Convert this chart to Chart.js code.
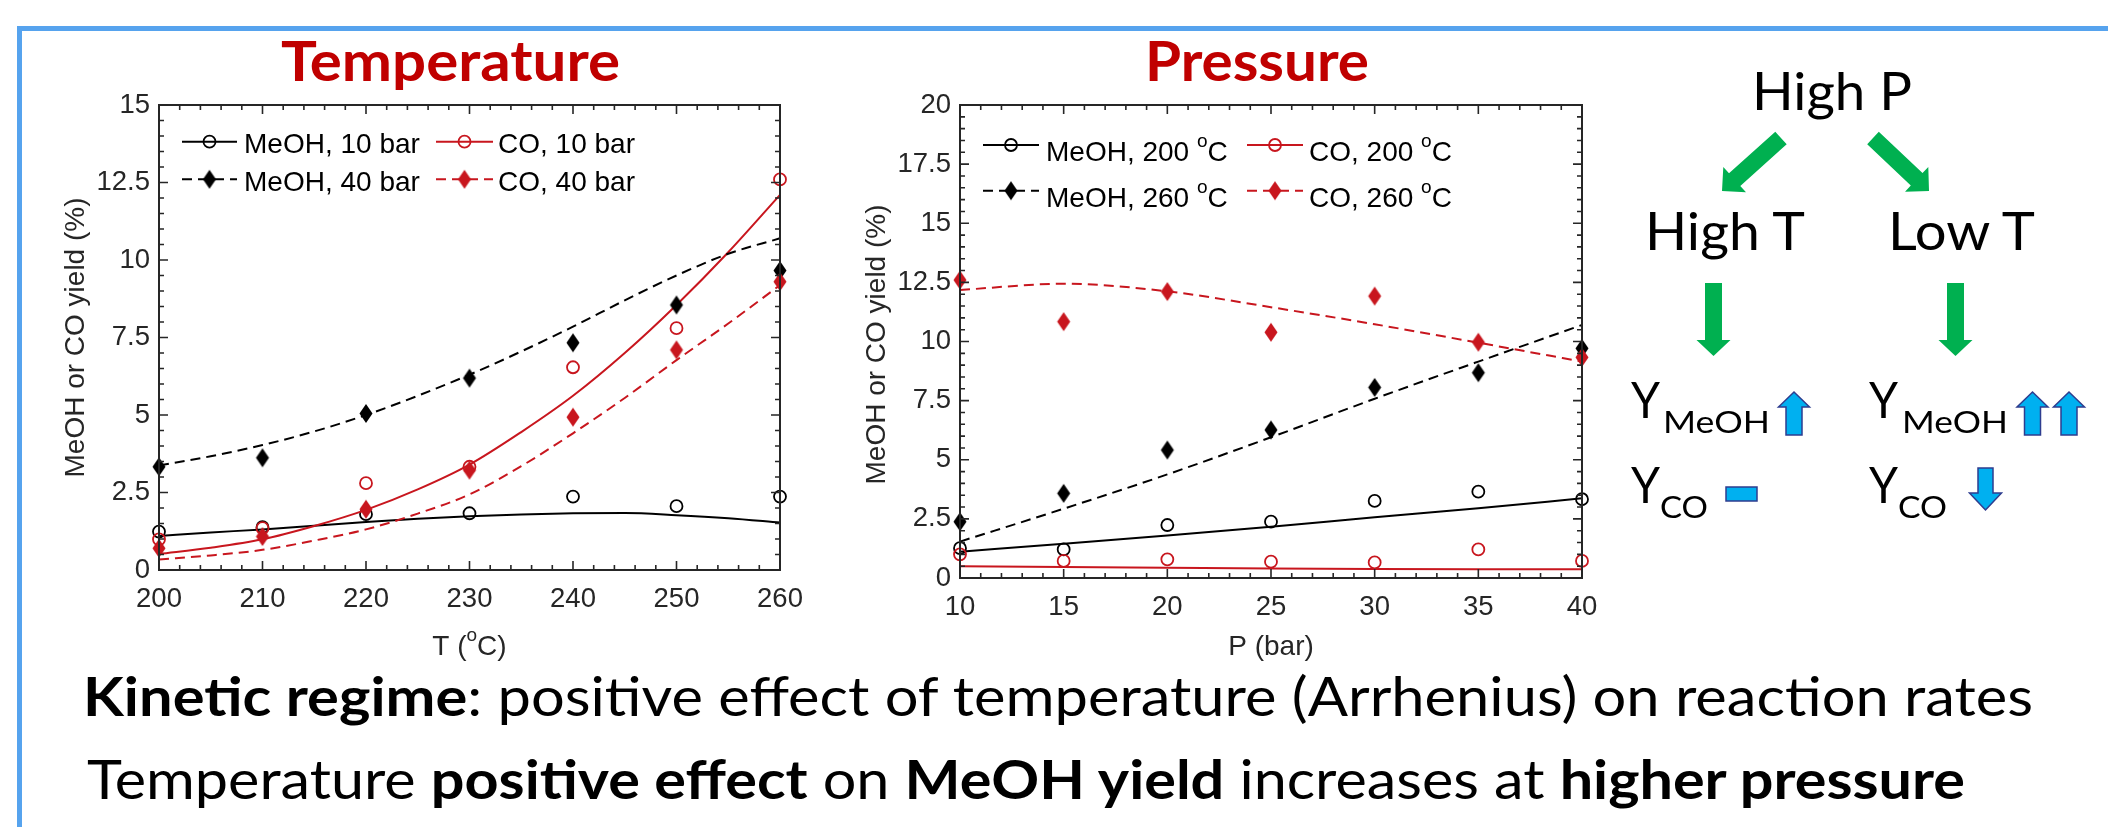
<!DOCTYPE html>
<html>
<head>
<meta charset="utf-8">
<script src="https://cdn.jsdelivr.net/npm/chart.js@4.4.1/dist/chart.umd.min.js"></script>
<style>
  html, body { margin: 0; padding: 0; background: #fff; }
  body { width: 2108px; height: 827px; position: relative; overflow: hidden; }
  .panel { position: absolute; top: 0; }
  #overlay { position: absolute; left: 0; top: 0; pointer-events: none; }
</style>
</head>
<body>
<div class="panel" style="left:0;width:880px;height:700px"><canvas id="tempChart" width="880" height="700"></canvas></div>
<div class="panel" style="left:860px;width:800px;height:700px"><canvas id="presChart" width="800" height="700"></canvas></div>

<svg id="overlay" width="2108" height="827" xmlns="http://www.w3.org/2000/svg" font-family="Lato, 'Open Sans', sans-serif">
  <path d="M19.5 827 V28.5 H2108" stroke="#56A3EE" stroke-width="5" fill="none"/>

  <text x="281" y="81" font-size="56" font-weight="700" fill="#C00000" textLength="339" lengthAdjust="spacingAndGlyphs">Temperature</text>
  <text x="1145" y="81" font-size="56" font-weight="700" fill="#C00000" textLength="224" lengthAdjust="spacingAndGlyphs">Pressure</text>

  <g fill="#000">
    <text x="1752" y="110" font-size="53" textLength="160" lengthAdjust="spacingAndGlyphs">High P</text>
    <text x="1645" y="250" font-size="53" textLength="160" lengthAdjust="spacingAndGlyphs">High T</text>
    <text x="1888" y="250" font-size="53" textLength="147" lengthAdjust="spacingAndGlyphs">Low T</text>

    <text x="1631" y="418" font-size="50" textLength="29" lengthAdjust="spacingAndGlyphs">Y</text>
    <text x="1663" y="433" font-size="30" textLength="107" lengthAdjust="spacingAndGlyphs">MeOH</text>
    <text x="1869" y="418" font-size="50" textLength="29" lengthAdjust="spacingAndGlyphs">Y</text>
    <text x="1902" y="433" font-size="30" textLength="106" lengthAdjust="spacingAndGlyphs">MeOH</text>

    <text x="1631" y="503" font-size="50" textLength="29" lengthAdjust="spacingAndGlyphs">Y</text>
    <text x="1660" y="518" font-size="30" textLength="48" lengthAdjust="spacingAndGlyphs">CO</text>
    <text x="1869" y="503" font-size="50" textLength="29" lengthAdjust="spacingAndGlyphs">Y</text>
    <text x="1898" y="518" font-size="30" textLength="49" lengthAdjust="spacingAndGlyphs">CO</text>

    <text x="83" y="716" font-size="54" textLength="1950" lengthAdjust="spacingAndGlyphs"><tspan font-weight="700">Kinetic regime</tspan>: positive effect of temperature (Arrhenius) on reaction rates</text>
    <text x="87" y="799" font-size="54" textLength="1878" lengthAdjust="spacingAndGlyphs">Temperature <tspan font-weight="700">positive effect</tspan> on <tspan font-weight="700">MeOH yield</tspan> increases at <tspan font-weight="700">higher pressure</tspan></text>
  </g>
  <g id="shapes"></g>
</svg>

<script>
// ---- data: Temperature panel (10 and 40 bar) ----
const tempC = [200, 210, 220, 230, 240, 250, 260];
const meoh10Bar = [1.24, 1.38, 1.80, 1.83, 2.37, 2.06, 2.37];
const co10Bar = [0.99, 1.35, 2.80, 3.33, 6.54, 7.80, 12.60];
const meoh40Bar = [3.33, 3.62, 5.05, 6.19, 7.33, 8.55, 9.66];
const co40Bar = [0.70, 1.08, 1.96, 3.22, 4.93, 7.10, 9.30];

// fitted curves, every 5 degC
const tempFitC = [200, 205, 210, 215, 220, 225, 230, 235, 240, 245, 250, 255, 260];
const meoh10BarFit = [1.10, 1.21, 1.31, 1.43, 1.55, 1.65, 1.73, 1.79, 1.83, 1.84, 1.77, 1.67, 1.53];
const co10BarFit = [0.52, 0.72, 0.99, 1.42, 1.94, 2.60, 3.40, 4.45, 5.62, 7.00, 8.55, 10.25, 12.10];
const meoh40BarFit = [3.37, 3.67, 4.03, 4.47, 5.00, 5.62, 6.30, 7.05, 7.85, 8.70, 9.50, 10.20, 10.70];
const co40BarFit = [0.34, 0.47, 0.65, 0.95, 1.31, 1.82, 2.44, 3.35, 4.41, 5.55, 6.77, 7.95, 9.19];

// ---- data: Pressure panel (200 and 260 degC) ----
const pressBar = [10, 15, 20, 25, 30, 35, 40];
const meoh200C = [1.26, 1.21, 2.24, 2.38, 3.26, 3.65, 3.33];
const co200C = [1.00, 0.72, 0.79, 0.69, 0.66, 1.21, 0.72];
const meoh260C = [2.38, 3.58, 5.41, 6.26, 8.06, 8.68, 9.71];
const co260C = [12.60, 10.84, 12.11, 10.39, 11.92, 9.97, 9.33];

const meoh200CFit = [1.11, 1.45, 1.80, 2.17, 2.57, 2.95, 3.37];
const co200CFit = [0.50, 0.46, 0.43, 0.40, 0.38, 0.37, 0.37];
const meoh260CFit = [1.54, 2.93, 4.38, 5.95, 7.58, 9.15, 10.70];
const co260CFit = [12.18, 12.44, 12.12, 11.45, 10.73, 9.95, 9.15];

const tempLabels = ['MeOH, 10 bar', 'CO, 10 bar', 'MeOH, 40 bar', 'CO, 40 bar'];
const pressLabels = ['MeOH, 200 °C', 'CO, 200 °C', 'MeOH, 260 °C', 'CO, 260 °C'];

const BLACK = '#000000';
const RED = '#C8161E';
const AXIS = '#262626';
const FONT = "'Liberation Sans', Arial, Helvetica, sans-serif";

Chart.defaults.font.family = FONT;

function zip(xs, ys) {
  return xs.map((x, i) => ({ x: x, y: ys[i] }));
}

// matlab style filled diamond (taller than wide)
function diamond(color) {
  const c = document.createElement('canvas');
  c.width = 16; c.height = 21;
  const g = c.getContext('2d');
  g.fillStyle = color;
  g.beginPath();
  g.moveTo(8, 1); g.lineTo(14.5, 10.5); g.lineTo(8, 20); g.lineTo(1.5, 10.5);
  g.closePath();
  g.fill();
  return c;
}
const blackDiamond = diamond(BLACK);
const redDiamond = diamond(RED);

function pointSet(label, xs, ys, color, filled) {
  return {
    label: label,
    data: zip(xs, ys),
    showLine: false,
    pointStyle: filled ? (color === RED ? redDiamond : blackDiamond) : 'circle',
    pointRadius: 6,
    pointBorderWidth: 1.8,
    pointBorderColor: color,
    pointBackgroundColor: 'rgba(0,0,0,0)',
    clip: false
  };
}

function fitSet(xs, ys, color, dashed) {
  return {
    label: '',
    data: zip(xs, ys),
    showLine: true,
    borderColor: color,
    borderWidth: 2,
    borderDash: dashed ? [10, 6] : [],
    pointRadius: 0,
    cubicInterpolationMode: 'monotone',
    clip: false
  };
}

function withOrder(sets) {
  // later datasets are drawn on top, like matlab
  sets.forEach((s, i) => { s.order = sets.length - i; });
  return sets;
}

function drawRich(ctx, str, x, y, size, align) {
  const parts = str.split('°');
  const supSize = size * 0.68;
  ctx.font = size + 'px ' + FONT;
  const w0 = ctx.measureText(parts[0]).width;
  let total = w0, wSup = 0;
  if (parts.length > 1) {
    ctx.font = supSize + 'px ' + FONT;
    wSup = ctx.measureText('o').width;
    ctx.font = size + 'px ' + FONT;
    total += wSup + ctx.measureText(parts[1]).width;
  }
  let sx = align === 'center' ? x - total / 2 : x;
  ctx.textAlign = 'left';
  ctx.textBaseline = 'alphabetic';
  ctx.fillText(parts[0], sx, y);
  if (parts.length > 1) {
    ctx.font = supSize + 'px ' + FONT;
    ctx.fillText('o', sx + w0, y - size * 0.5);
    ctx.font = size + 'px ' + FONT;
    ctx.fillText(parts[1], sx + w0 + wSup, y);
  }
}

function drawMarker(ctx, ds, x, y) {
  const st = ds.pointStyle;
  if (st instanceof HTMLCanvasElement) {
    ctx.drawImage(st, x - st.width / 2, y - st.height / 2);
  } else {
    ctx.beginPath();
    ctx.arc(x, y, ds.pointRadius, 0, Math.PI * 2);
    ctx.lineWidth = ds.pointBorderWidth;
    ctx.strokeStyle = ds.pointBorderColor;
    ctx.setLineDash([]);
    ctx.stroke();
  }
}

const matlabAxes = {
  id: 'matlabAxes',
  afterDraw(chart, args, opts) {
    const ctx = chart.ctx, a = chart.chartArea;
    const xs = chart.scales.x, ys = chart.scales.y;
    const ds = chart.data.datasets;
    ctx.save();
    ctx.strokeStyle = AXIS;
    ctx.lineWidth = 2;
    ctx.setLineDash([]);
    ctx.strokeRect(a.left, a.top, a.right - a.left, a.bottom - a.top);

    ctx.lineWidth = 1.6;
    ctx.beginPath();
    const nx = Math.round((xs.max - xs.min) / opts.xMinor);
    for (let i = 0; i <= nx; i++) {
      const v = xs.min + i * opts.xMinor;
      const px = xs.getPixelForValue(v);
      const len = (i % opts.xEvery === 0) ? 9 : 5;
      ctx.moveTo(px, a.bottom); ctx.lineTo(px, a.bottom - len);
      ctx.moveTo(px, a.top); ctx.lineTo(px, a.top + len);
    }
    const ny = Math.round((ys.max - ys.min) / opts.yMinor);
    for (let i = 0; i <= ny; i++) {
      const v = ys.min + i * opts.yMinor;
      const py = ys.getPixelForValue(v);
      const len = (i % opts.yEvery === 0) ? 9 : 5;
      ctx.moveTo(a.left, py); ctx.lineTo(a.left + len, py);
      ctx.moveTo(a.right, py); ctx.lineTo(a.right - len, py);
    }
    ctx.stroke();

    // axis titles
    ctx.fillStyle = AXIS;
    drawRich(ctx, opts.xTitle, (a.left + a.right) / 2, opts.xTitleY, 28, 'center');
    ctx.save();
    ctx.translate(opts.yTitleX, (a.top + a.bottom) / 2 + opts.yTitleShift);
    ctx.rotate(-Math.PI / 2);
    drawRich(ctx, opts.yTitle, 0, 0, 28, 'center');
    ctx.restore();

    // legend: two columns, line sample with marker in the middle
    opts.legend.forEach(item => {
      const pts = ds[item.pts], fit = ds[item.fit];
      const col = opts.cols[item.col];
      const lineY = opts.rowLine[item.row];
      ctx.strokeStyle = fit.borderColor;
      ctx.lineWidth = 2;
      ctx.setLineDash(fit.borderDash || []);
      ctx.beginPath();
      ctx.moveTo(col.x0, lineY); ctx.lineTo(col.x1, lineY);
      ctx.stroke();
      ctx.setLineDash([]);
      drawMarker(ctx, pts, (col.x0 + col.x1) / 2, lineY);
      ctx.fillStyle = '#000';
      drawRich(ctx, pts.label, col.tx, opts.rowText[item.row], 28, 'left');
    });
    ctx.restore();
  }
};

function axisScale(min, max, step, pad, extra) {
  return Object.assign({
    type: 'linear',
    min: min,
    max: max,
    ticks: { stepSize: step, padding: pad, color: AXIS, font: { size: 27.5, family: FONT } },
    grid: { display: false, drawTicks: false },
    border: { display: false }
  }, extra);
}

new Chart(document.getElementById('tempChart'), {
  type: 'scatter',
  data: {
    datasets: withOrder([
      pointSet(tempLabels[0], tempC, meoh10Bar, BLACK, false),
      fitSet(tempFitC, meoh10BarFit, BLACK, false),
      pointSet(tempLabels[1], tempC, co10Bar, RED, false),
      fitSet(tempFitC, co10BarFit, RED, false),
      pointSet(tempLabels[2], tempC, meoh40Bar, BLACK, true),
      fitSet(tempFitC, meoh40BarFit, BLACK, true),
      pointSet(tempLabels[3], tempC, co40Bar, RED, true),
      fitSet(tempFitC, co40BarFit, RED, true)
    ])
  },
  options: {
    responsive: false,
    animation: false,
    events: [],
    layout: { padding: { top: 105, right: 100, bottom: 0, left: 0 } },
    plugins: {
      legend: { display: false },
      tooltip: { enabled: false },
      matlabAxes: {
        xMinor: 2, xEvery: 5, yMinor: 0.5, yEvery: 5,
        xTitle: 'T (°C)', xTitleY: 655,
        yTitle: 'MeOH or CO yield (%)', yTitleX: 83.5, yTitleShift: 0,
        cols: [{ x0: 182, x1: 237, tx: 244 }, { x0: 436, x1: 493, tx: 498 }],
        rowLine: [141.7, 179.3],
        rowText: [152.7, 190.7],
        legend: [
          { pts: 0, fit: 1, col: 0, row: 0 },
          { pts: 2, fit: 3, col: 1, row: 0 },
          { pts: 4, fit: 5, col: 0, row: 1 },
          { pts: 6, fit: 7, col: 1, row: 1 }
        ]
      }
    },
    scales: {
      x: axisScale(200, 260, 10, 13, { afterFit(s) { s.height = 130; } }),
      y: axisScale(0, 15, 2.5, 9, { afterFit(s) { s.width = 159; } })
    }
  },
  plugins: [matlabAxes]
});

new Chart(document.getElementById('presChart'), {
  type: 'scatter',
  data: {
    datasets: withOrder([
      pointSet(pressLabels[0], pressBar, meoh200C, BLACK, false),
      fitSet(pressBar, meoh200CFit, BLACK, false),
      pointSet(pressLabels[1], pressBar, co200C, RED, false),
      fitSet(pressBar, co200CFit, RED, false),
      pointSet(pressLabels[2], pressBar, meoh260C, BLACK, true),
      fitSet(pressBar, meoh260CFit, BLACK, true),
      pointSet(pressLabels[3], pressBar, co260C, RED, true),
      fitSet(pressBar, co260CFit, RED, true)
    ])
  },
  options: {
    responsive: false,
    animation: false,
    events: [],
    layout: { padding: { top: 105, right: 78, bottom: 0, left: 0 } },
    plugins: {
      legend: { display: false },
      tooltip: { enabled: false },
      matlabAxes: {
        xMinor: 1, xEvery: 5, yMinor: 0.5, yEvery: 5,
        xTitle: 'P (bar)', xTitleY: 655,
        yTitle: 'MeOH or CO yield (%)', yTitleX: 24.5, yTitleShift: 3,
        cols: [{ x0: 123, x1: 179, tx: 186 }, { x0: 387, x1: 443, tx: 449 }],
        rowLine: [145, 190.7],
        rowText: [161, 206.7],
        legend: [
          { pts: 0, fit: 1, col: 0, row: 0 },
          { pts: 2, fit: 3, col: 1, row: 0 },
          { pts: 4, fit: 5, col: 0, row: 1 },
          { pts: 6, fit: 7, col: 1, row: 1 }
        ]
      }
    },
    scales: {
      x: axisScale(10, 40, 5, 13, { afterFit(s) { s.height = 122; } }),
      y: axisScale(0, 20, 2.5, 9, { afterFit(s) { s.width = 100; } })
    }
  },
  plugins: [matlabAxes]
});

// ---- arrows of the right-hand diagram ----
function arrowPoints(x0, y0, x1, y1, sw, hw, hl) {
  const dx = x1 - x0, dy = y1 - y0, L = Math.hypot(dx, dy);
  const ux = dx / L, uy = dy / L, px = -uy, py = ux;
  const bx = x1 - ux * hl, by = y1 - uy * hl;
  const pts = [
    [x0 + px * sw / 2, y0 + py * sw / 2], [bx + px * sw / 2, by + py * sw / 2],
    [bx + px * hw / 2, by + py * hw / 2], [x1, y1],
    [bx - px * hw / 2, by - py * hw / 2], [bx - px * sw / 2, by - py * sw / 2],
    [x0 - px * sw / 2, y0 - py * sw / 2]
  ];
  return pts.map(p => p[0].toFixed(1) + ',' + p[1].toFixed(1)).join(' ');
}

const shapes = document.getElementById('shapes');
function addPoly(points, fill, stroke) {
  const el = document.createElementNS('http://www.w3.org/2000/svg', 'polygon');
  el.setAttribute('points', points);
  el.setAttribute('fill', fill);
  if (stroke) { el.setAttribute('stroke', stroke); el.setAttribute('stroke-width', '1.5'); }
  shapes.appendChild(el);
}
const GREEN = '#00B050', BLUE = '#00B0F0', NAVY = '#2E3D8F';
addPoly(arrowPoints(1781, 138, 1722, 191, 17, 34, 17), GREEN);
addPoly(arrowPoints(1873, 138, 1929, 191, 17, 34, 17), GREEN);
addPoly(arrowPoints(1713.5, 283, 1713.5, 356, 17, 34, 16), GREEN);
addPoly(arrowPoints(1955.5, 283, 1955.5, 356, 17, 34, 16), GREEN);
addPoly(arrowPoints(1794, 435, 1794, 392, 16, 31, 15), BLUE, NAVY);
addPoly(arrowPoints(2032.5, 435, 2032.5, 392, 16, 31, 15), BLUE, NAVY);
addPoly(arrowPoints(2069, 435, 2069, 392, 16, 31, 15), BLUE, NAVY);
addPoly(arrowPoints(1985.5, 468, 1985.5, 510, 15, 32, 17), BLUE, NAVY);
addPoly('1726,487 1757,487 1757,501 1726,501', BLUE, NAVY);
</script>
</body>
</html>
